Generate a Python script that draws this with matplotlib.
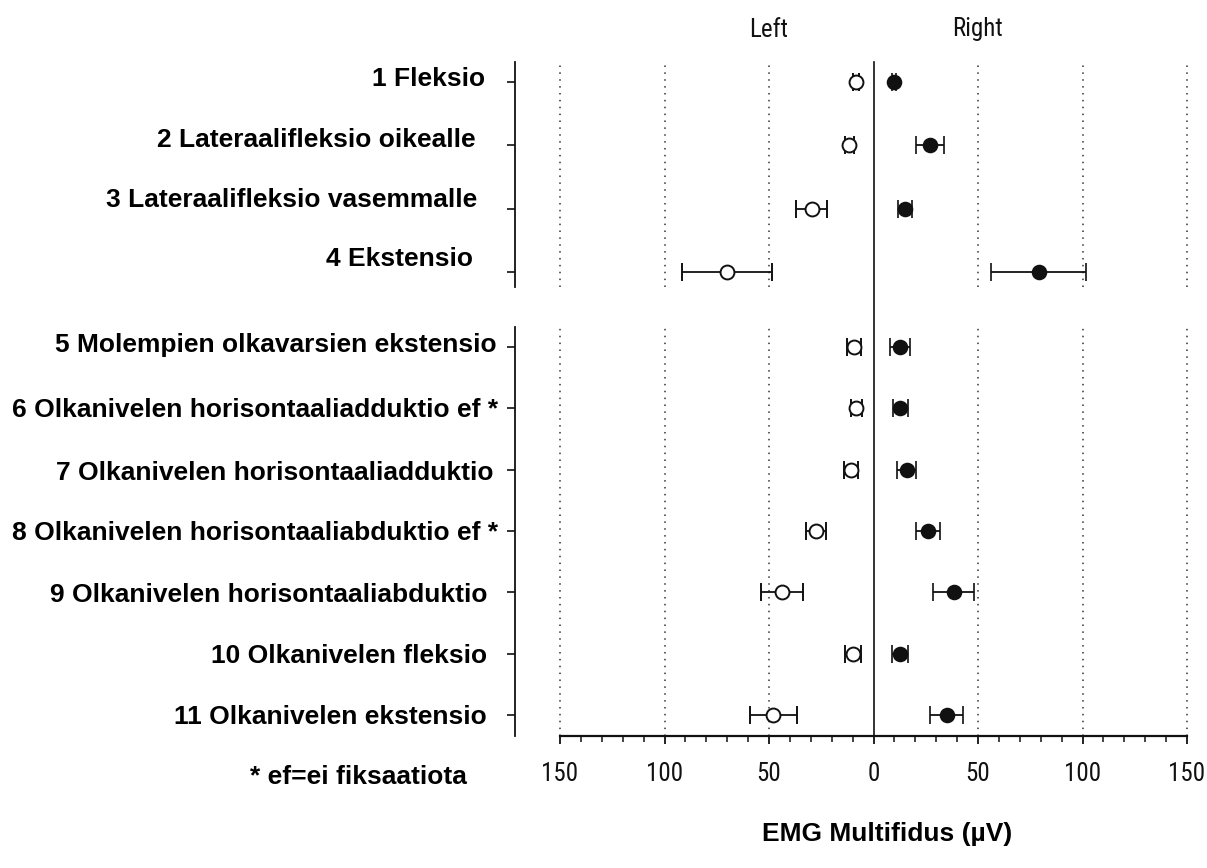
import matplotlib
matplotlib.use("Agg")
import matplotlib.pyplot as plt
from matplotlib import font_manager
from matplotlib.font_manager import FontProperties
from matplotlib.transforms import blended_transform_factory, offset_copy
from matplotlib.ticker import FixedLocator, FuncFormatter

# ---------------- data ----------------
labels_top = ["1 Fleksio", "2 Lateraalifleksio oikealle ", "3 Lateraalifleksio vasemmalle ",
              "4 Ekstensio "]
labels_bottom = ["5 Molempien olkavarsien ekstensio", "6 Olkanivelen horisontaaliadduktio ef *",
                 "7 Olkanivelen horisontaaliadduktio", "8 Olkanivelen horisontaaliabduktio ef *",
                 "9 Olkanivelen horisontaaliabduktio", "10 Olkanivelen fleksio",
                 "11 Olkanivelen ekstensio"]

# left side (plotted as negative), right side (positive), errors (uV)
left_top = [8.5, 11.5, 29.5, 70.0]
left_top_err = [1.5, 2.3, 7.4, 21.6]
right_top = [10.0, 27.0, 15.0, 79.0]
right_top_err = [1.0, 6.7, 3.2, 22.8]

left_bottom = [9.4, 8.3, 10.7, 27.4, 43.6, 9.8, 48.0]
left_bottom_err = [3.3, 2.7, 3.5, 4.7, 10.0, 3.6, 11.2]
right_bottom = [12.8, 12.8, 15.8, 26.1, 38.5, 12.8, 35.0]
right_bottom_err = [4.7, 3.7, 4.6, 5.8, 9.8, 3.8, 7.9]

xticks = [-150, -100, -50, 0, 50, 100, 150]
footnote = "* ef=ei fiksaatiota"
xlabel = "EMG Multifidus (\u00b5V)"
side_labels = ["Left", "Right"]

# ---------------- fonts ----------------
names = {f.name for f in font_manager.fontManager.ttflist}
bold_font = "Liberation Sans" if "Liberation Sans" in names else "DejaVu Sans"


def find_narrow():
    cands = []
    for f in font_manager.fontManager.ttflist:
        w = f.weight
        regular = (w in (400, "normal", "regular", "book")) or (isinstance(w, int) and 350 <= w <= 450)
        if not regular or f.style != "normal":
            continue
        fn = f.fname.lower()
        if f.stretch in ("condensed", "semi-condensed") or "narrow" in fn or "condensed" in fn:
            cands.append(f)
    pref = ["Liberation Sans Narrow", "Arial Narrow", "Roboto Condensed", "Open Sans Condensed",
            "Noto Sans", "DejaVu Sans"]
    for p in pref:
        for f in cands:
            if f.name == p:
                return f
    return cands[0] if cands else None


nf = find_narrow()
if nf is not None:
    narrow_prop = FontProperties(fname=nf.fname)
    narrow_size = 18
else:
    narrow_prop = FontProperties(family=bold_font)
    narrow_size = 15.5

# ---------------- layout ----------------
W, H = 1207, 868
fig = plt.figure(figsize=(W / 100, H / 100), dpi=100)
fig.patch.set_facecolor("white")


def fx(px):
    return px / W


def fy(py):
    return 1 - py / H


ax_left_px, ax_right_px = 515, 1187
x_lo = -150 - (560 - 515) / ((1187 - 560) / 300)
ink = "#111111"

ax1 = fig.add_axes([fx(ax_left_px), fy(287), fx(ax_right_px - ax_left_px), (287 - 62) / H])
ax2 = fig.add_axes([fx(ax_left_px), fy(736), fx(ax_right_px - ax_left_px), (736 - 327) / H])

row_top = list(range(len(labels_top)))
row_bot = list(range(len(labels_bottom)))
ax1.set_ylim(3.238, -0.316)
ax2.set_ylim(6.343, -0.326)

for ax, rows, lv, le, rv, re in [
    (ax1, row_top, left_top, left_top_err, right_top, right_top_err),
    (ax2, row_bot, left_bottom, left_bottom_err, right_bottom, right_bottom_err),
]:
    ax.set_xlim(x_lo, 150)
    ax.set_facecolor("none")
    for g in [-150, -100, -50, 50, 100, 150]:
        ax.axvline(g, color="#333333", lw=1.1, ls=(0, (1, 3.5)), zorder=1, clip_on=False)
    ax.errorbar([-v for v in lv], rows, xerr=le, fmt="o", ms=10, mfc="white", mec=ink,
                mew=1.4, ecolor=ink, elinewidth=1.3, capsize=6.5, capthick=1.3, zorder=3)
    ax.errorbar(rv, rows, xerr=re, fmt="o", ms=10, mfc=ink, mec=ink,
                mew=1.2, ecolor=ink, elinewidth=1.3, capsize=6.5, capthick=1.3, zorder=3)
    for s in ["top", "right"]:
        ax.spines[s].set_visible(False)
    ax.spines["left"].set_linewidth(1.3)
    ax.spines["left"].set_color(ink)
    ax.yaxis.set_major_locator(FixedLocator(rows))
    ax.tick_params(axis="y", direction="out", length=5.8, width=1.2, color=ink, labelleft=False)

ax1.spines["bottom"].set_visible(False)
ax1.tick_params(axis="x", bottom=False, labelbottom=False)

ax2.spines["bottom"].set_bounds(-150, 150)
ax2.spines["bottom"].set_linewidth(1.6)
ax2.spines["bottom"].set_color(ink)
ax2.xaxis.set_major_locator(FixedLocator(xticks))
ax2.xaxis.set_minor_locator(FixedLocator([v for v in range(-150, 151, 10) if v % 50 != 0]))
ax2.xaxis.set_major_formatter(FuncFormatter(lambda v, p: f"{abs(int(round(v)))}"))
ax2.tick_params(axis="x", which="major", direction="out", length=6, width=1.3, color=ink,
                pad=13, labelcolor=ink)
ax2.tick_params(axis="x", which="minor", direction="out", length=4, width=1.1, color=ink)
for t in ax2.get_xticklabels():
    t.set_fontproperties(narrow_prop)
    t.set_fontsize(narrow_size)

# continuous zero line through both panels
zt = blended_transform_factory(ax2.transData, fig.transFigure)
ax2.plot([0, 0], [fy(736), fy(62)], transform=zt, color=ink, lw=1.2, clip_on=False, zorder=2)

# row labels
lab_right_top = [485, 483, 485, 480]
lab_dy_top = [6, 8, 11, 15]
lab_right_bot = [497, 498, 493, 498, 487, 487, 487]
lab_dy_bot = [4, 1, -1, 0, 0, 0, 0]
for ax, labs, rows, xr, dy in [(ax1, labels_top, row_top, lab_right_top, lab_dy_top),
                               (ax2, labels_bottom, row_bot, lab_right_bot, lab_dy_bot)]:
    base = blended_transform_factory(fig.transFigure, ax.transData)
    for lab, r, x, d in zip(labs, rows, xr, dy):
        tr = offset_copy(base, fig=fig, x=0, y=d * 0.72, units="points")
        ax.text(fx(x), r, lab, transform=tr, ha="right", va="center_baseline",
                fontsize=19, fontweight="bold", fontfamily=bold_font, color="black")

# Left / Right headers
lt = blended_transform_factory(ax1.transData, fig.transFigure)
for xv, lab, py in [(-50, side_labels[0], 30), (50, side_labels[1], 29)]:
    t = ax1.text(xv, fy(py), lab, transform=lt, ha="center", va="center", color=ink)
    t.set_fontproperties(narrow_prop)
    t.set_fontsize(narrow_size)

fig.text(fx(358), fy(777), footnote, ha="center", va="center", fontsize=19,
         fontweight="bold", fontfamily=bold_font, color="black")
fig.text(fx(887), fy(834), xlabel, ha="center", va="center", fontsize=19,
         fontweight="bold", fontfamily=bold_font, color="black")

fig.savefig("out.png", dpi=100, facecolor="white")
